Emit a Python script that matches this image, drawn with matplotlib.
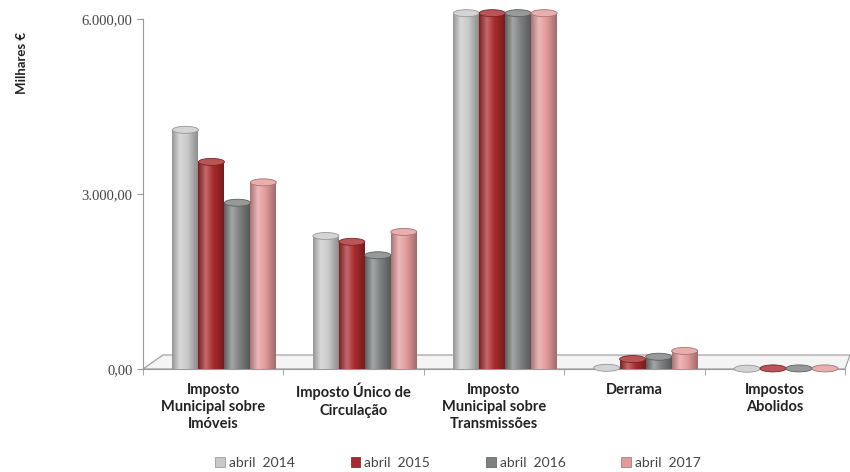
import numpy as np
import matplotlib
matplotlib.use("Agg")
import matplotlib.pyplot as plt
from matplotlib.patches import Ellipse, Polygon, Patch
from matplotlib.colors import LinearSegmentedColormap, to_rgb
from matplotlib.ticker import FuncFormatter

# data (milhares de euros)
categorias = ["Imposto\nMunicipal sobre\nImóveis", "Imposto Único de\nCirculação",
              "Imposto\nMunicipal sobre\nTransmissões", "Derrama", "Impostos\nAbolidos"]
series = ["abril  2014", "abril  2015", "abril  2016", "abril  2017"]
v2014 = [4100, 2280, 6100, 20, 5]
v2015 = [3550, 2180, 6100, 170, 10]
v2016 = [2850, 1950, 6100, 210, 10]
v2017 = [3200, 2350, 6100, 310, 10]
cores = ["#c9c9c9", "#a82a2c", "#7d8080", "#e39a9a"]

valores = [v2014, v2015, v2016, v2017]


def mix(c, other, t):
    c = np.array(to_rgb(c))
    o = np.array(to_rgb(other))
    return tuple(c * (1 - t) + o * t)


def fmt_pt(v, pos):
    s = f"{v:,.2f}"
    return s.replace(",", "X").replace(".", ",").replace("X", ".")


fig = plt.figure(figsize=(8.5, 4.72), dpi=100)
ax = fig.add_axes([143 / 850, 103 / 472, 702 / 850, 350 / 472])

# floor of the 3D look
dx = 20 / 702
dy = 14 / 350
chao = Polygon([(0, 0), (1, 0), (1 + 5 / 702, dy), (dx, dy)], closed=True,
               transform=ax.transAxes, facecolor="#f4f4f4", edgecolor="#9a9a9a",
               lw=0.8, clip_on=False, zorder=1)
ax.add_patch(chao)

x = np.arange(len(categorias))
bw = 0.185
desloc = 0.08
cap_h = 7 * 6000 / 350

grad = np.linspace(0, 1, 64).reshape(1, -1)
for i, (vals, cor) in enumerate(zip(valores, cores)):
    pos = x - 1.5 * bw + i * bw + desloc
    cmap = LinearSegmentedColormap.from_list(
        "c%d" % i, [(0, mix(cor, "black", 0.25)), (0.3, mix(cor, "white", 0.3)),
                    (0.6, cor), (1, mix(cor, "black", 0.3))])
    bars = ax.bar(pos, vals, width=bw, color=cor, zorder=3, clip_on=False)
    for b, v in zip(bars, vals):
        x0 = b.get_x()
        im = ax.imshow(grad, extent=[x0, x0 + bw, 0, v], aspect="auto", cmap=cmap,
                       zorder=4, clip_on=False)
        im.set_clip_path(b)
        ax.add_patch(Ellipse((x0 + bw / 2, v), bw, cap_h, facecolor=mix(cor, "white", 0.2),
                             edgecolor=mix(cor, "black", 0.25), lw=0.6, zorder=5, clip_on=False))

ax.set_xlim(-0.5, 4.5)
ax.set_ylim(0, 6000)
ax.set_yticks([0, 3000, 6000])
ax.yaxis.set_major_formatter(FuncFormatter(fmt_pt))
ax.set_xticks(x)
ax.set_xticklabels(categorias, fontsize=10.5, fontweight="bold", family="Lato",
                   linespacing=1.3)
ax.set_xticks(np.arange(-0.5, 5, 1), minor=True)
ax.tick_params(axis="x", which="major", length=0, pad=10, colors="#222222")
ax.tick_params(axis="x", which="minor", length=4, color="#999999")
ax.tick_params(axis="y", length=4, color="#999999", labelsize=10.5, labelcolor="#444444")
for lab in ax.get_yticklabels():
    lab.set_family("Liberation Serif")

for s in ["top", "right"]:
    ax.spines[s].set_visible(False)
ax.spines["left"].set_color("#999999")
ax.spines["bottom"].set_color("#999999")
ax.set_facecolor("none")

fig.text(22 / 850, 1 - 63 / 472, "Milhares €", rotation=90, ha="center", va="center",
         fontsize=9.5, fontweight="bold", family="Lato", color="#222222")

handles = [Patch(facecolor=c, edgecolor=mix(c, "black", 0.3), lw=0.5) for c in cores]
fig.legend(handles, series, loc="center", bbox_to_anchor=(458 / 850, 1 - 463 / 472), ncol=4,
           frameon=False, handlelength=0.7, handleheight=0.7, handletextpad=0.3,
           columnspacing=4.0, prop={"family": "Lato", "size": 10}, labelcolor="#444444")

fig.savefig("out.png", dpi=100)
